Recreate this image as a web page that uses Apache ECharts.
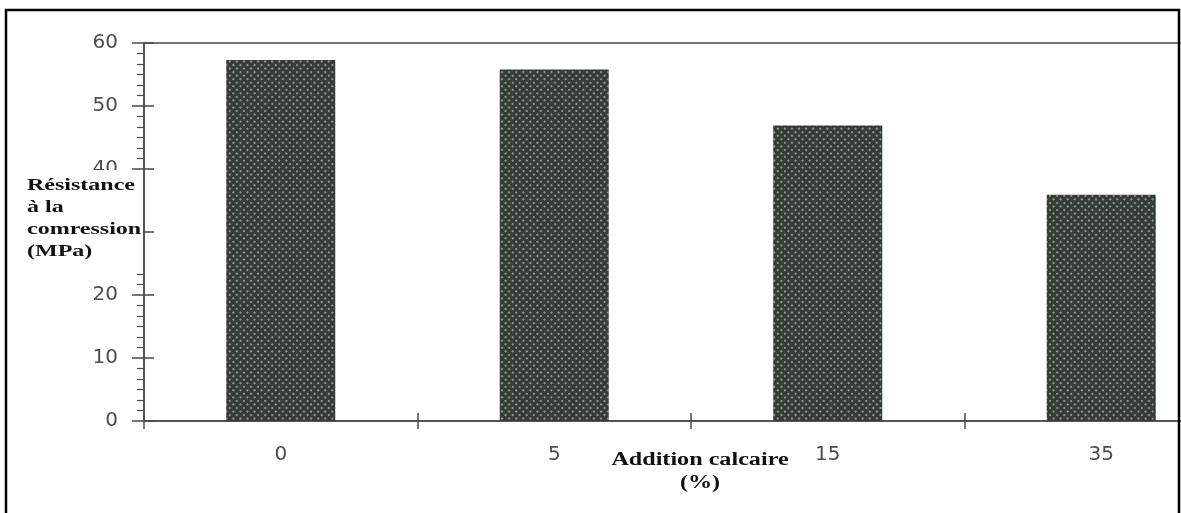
<!DOCTYPE html>
<html>
<head>
<meta charset="utf-8">
<script src="https://cdn.jsdelivr.net/npm/echarts@6/dist/echarts.min.js"></script>
<style>
html,body{margin:0;padding:0;background:#fff;}
#chart{width:1181px;height:513px;}
</style>
</head>
<body>
<div id="chart"></div>
<script>
const categories = ['0', '5', '15', '35'];
const strength = [57.3, 55.8, 46.9, 35.9];
const yMin = 0, yMax = 60, yStep = 10;
const yTitle = 'Résistance\nà la\ncomression\n(MPa)';
const xTitle = 'Addition calcaire\n(%)';

const axisColor = '#4a4a4a';
const labelColor = '#4d4d4d';

const chart = echarts.init(document.getElementById('chart'), null, {renderer: 'canvas'});
chart.setOption({
  backgroundColor: '#ffffff',
  animation: false,
  grid: {
    left: 144, width: 1094, top: 43, bottom: 92,
    outerBoundsMode: 'none', containLabel: false,
    show: true, borderColor: axisColor, borderWidth: 1.5, backgroundColor: 'transparent'
  },
  xAxis: [{
    type: 'category', data: categories, position: 'bottom',
    axisLine: {lineStyle: {color: axisColor, width: 1.5}},
    axisTick: {show: true, length: 8, lineStyle: {color: axisColor, width: 1.5}},
    axisLabel: {color: labelColor, fontFamily: 'DejaVu Sans', fontSize: 20, margin: 24}
  }, {
    type: 'category', data: categories, position: 'bottom',
    axisLine: {show: false},
    axisTick: {show: true, inside: true, length: 8, lineStyle: {color: axisColor, width: 1.5}},
    axisLabel: {show: false}
  }],
  yAxis: [{
    type: 'value', min: yMin, max: yMax, interval: yStep, position: 'left',
    axisLine: {show: true, lineStyle: {color: axisColor, width: 1.5}},
    axisTick: {show: true, length: 12, lineStyle: {color: axisColor, width: 1.5}},
    minorTick: {show: true, splitNumber: 6, length: 7, lineStyle: {color: axisColor, width: 1.2}},
    splitLine: {show: false},
    axisLabel: {color: labelColor, fontFamily: 'DejaVu Sans', fontSize: 20, margin: 26}
  }, {
    type: 'value', min: yMin, max: yMax, interval: yStep, position: 'left',
    axisLine: {show: false},
    axisTick: {show: true, inside: true, length: 10, lineStyle: {color: axisColor, width: 1.5}},
    splitLine: {show: false},
    axisLabel: {show: false}
  }],
  series: [{
    type: 'bar', xAxisIndex: 0, yAxisIndex: 0,
    data: strength, barWidth: 109,
    itemStyle: {
      color: '#343c36',
      decal: {
        symbol: 'circle', symbolSize: 1,
        color: 'rgba(225,232,225,0.7)',
        dashArrayX: [[1.8, 2.4]], dashArrayY: [1.8, 2.4],
        rotation: Math.PI / 4
      }
    }
  }],
  graphic: [
    {type: 'polyline', z: 200, silent: true,
     shape: {points: [[6, 513], [6, 10], [1179, 10], [1179, 513]]},
     style: {stroke: '#000', lineWidth: 2.5, fill: null}},
    {type: 'rect', z: 100, silent: true,
     shape: {x: 24, y: 170, width: 119, height: 96},
     style: {fill: '#ffffff'}},
    {type: 'text', z: 101, silent: true, x: 27, y: 175, scaleX: 1.5,
     style: {text: yTitle, font: 'bold 16px "Liberation Serif"', fill: '#111',
             lineHeight: 22, verticalAlign: 'top', align: 'left'}},
    {type: 'text', z: 101, silent: true, x: 700, y: 448, scaleX: 1.42, scaleY: 1.08,
     style: {text: xTitle, font: 'bold 17px "Liberation Serif"', fill: '#111',
             lineHeight: 22, verticalAlign: 'top', align: 'center'}}
  ]
});
</script>
</body>
</html>
